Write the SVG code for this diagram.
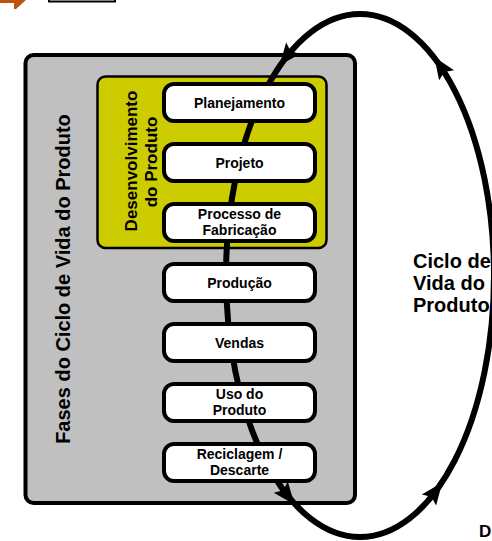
<svg xmlns="http://www.w3.org/2000/svg" xmlns:xlink="http://www.w3.org/1999/xlink" width="492" height="541" viewBox="0 0 492 541">
<style>
text{font-family:"Liberation Sans",Arial,sans-serif;font-weight:bold;fill:#000}
.node rect{fill:#fff;stroke:#000;stroke-width:4}
.node text{font-size:14px;text-anchor:middle}
.loop{fill:none;stroke:#000;stroke-width:6}
</style>
<defs>
<path id="ah" d="M12,0 L-10,-9 L-6,0 L-10,9 Z" fill="#000"/>
</defs>
<rect width="492" height="541" fill="#fff"/>
<g id="header">
<polygon points="0,0 26,0 16,9 14,9 14,3 0,3" fill="#C05010"/>
<rect x="49" y="-10" width="66" height="11.5" fill="#fff" stroke="#000" stroke-width="2"/>
</g>
<g id="fases">
<rect x="25.5" y="55" width="329.5" height="448" rx="8" fill="#c0c0c0" stroke="#000" stroke-width="4"/>
<text transform="translate(70,279) rotate(-90)" font-size="20" text-anchor="middle">Fases do Ciclo de Vida do Produto</text>
</g>
<g id="desenvolvimento">
<rect x="97.5" y="76.5" width="229" height="171.5" rx="8" fill="#cccc00" stroke="#000" stroke-width="2.5"/>
<text transform="translate(137,161) rotate(-90)" font-size="17" text-anchor="middle">Desenvolvimento</text>
<text transform="translate(157,162) rotate(-90)" font-size="17" text-anchor="middle">do Produto</text>
</g>
<g id="connectors">
<ellipse class="loop" cx="360" cy="275.5" rx="134" ry="261.5"/>
<use xlink:href="#ah" transform="translate(441,67) rotate(-124)"/>
<use xlink:href="#ah" transform="translate(287,56) rotate(128.3)"/>
<use xlink:href="#ah" transform="translate(287,495) rotate(51.7)"/>
<use xlink:href="#ah" transform="translate(435,492) rotate(-52.8)"/>
</g>
<g id="planejamento" class="node"><rect x="164" y="84" width="151" height="37" rx="10"/><text x="239.5" y="108">Planejamento</text></g>
<g id="projeto" class="node"><rect x="164" y="144" width="151" height="37" rx="10"/><text x="239.5" y="168">Projeto</text></g>
<g id="processo" class="node"><rect x="164" y="204" width="151" height="37" rx="10"/><text x="239.5" y="218.5">Processo de</text><text x="239.5" y="235">Fabricação</text></g>
<g id="producao" class="node"><rect x="164" y="264" width="151" height="37" rx="10"/><text x="239.5" y="288">Produção</text></g>
<g id="vendas" class="node"><rect x="164" y="324" width="151" height="37" rx="10"/><text x="239.5" y="348">Vendas</text></g>
<g id="uso" class="node"><rect x="164" y="384" width="151" height="37" rx="10"/><text x="239.5" y="398.5">Uso do</text><text x="239.5" y="415">Produto</text></g>
<g id="reciclagem" class="node"><rect x="164" y="444" width="151" height="37" rx="10"/><text x="239.5" y="458.5">Reciclagem /</text><text x="239.5" y="475">Descarte</text></g>
<g id="ciclo-label">
<text x="413" y="268" font-size="20">Ciclo de</text>
<text x="413" y="290" font-size="20">Vida do</text>
<text x="413" y="312" font-size="20">Produto</text>
</g>
<text x="479" y="537" font-size="17">D</text>
</svg>
